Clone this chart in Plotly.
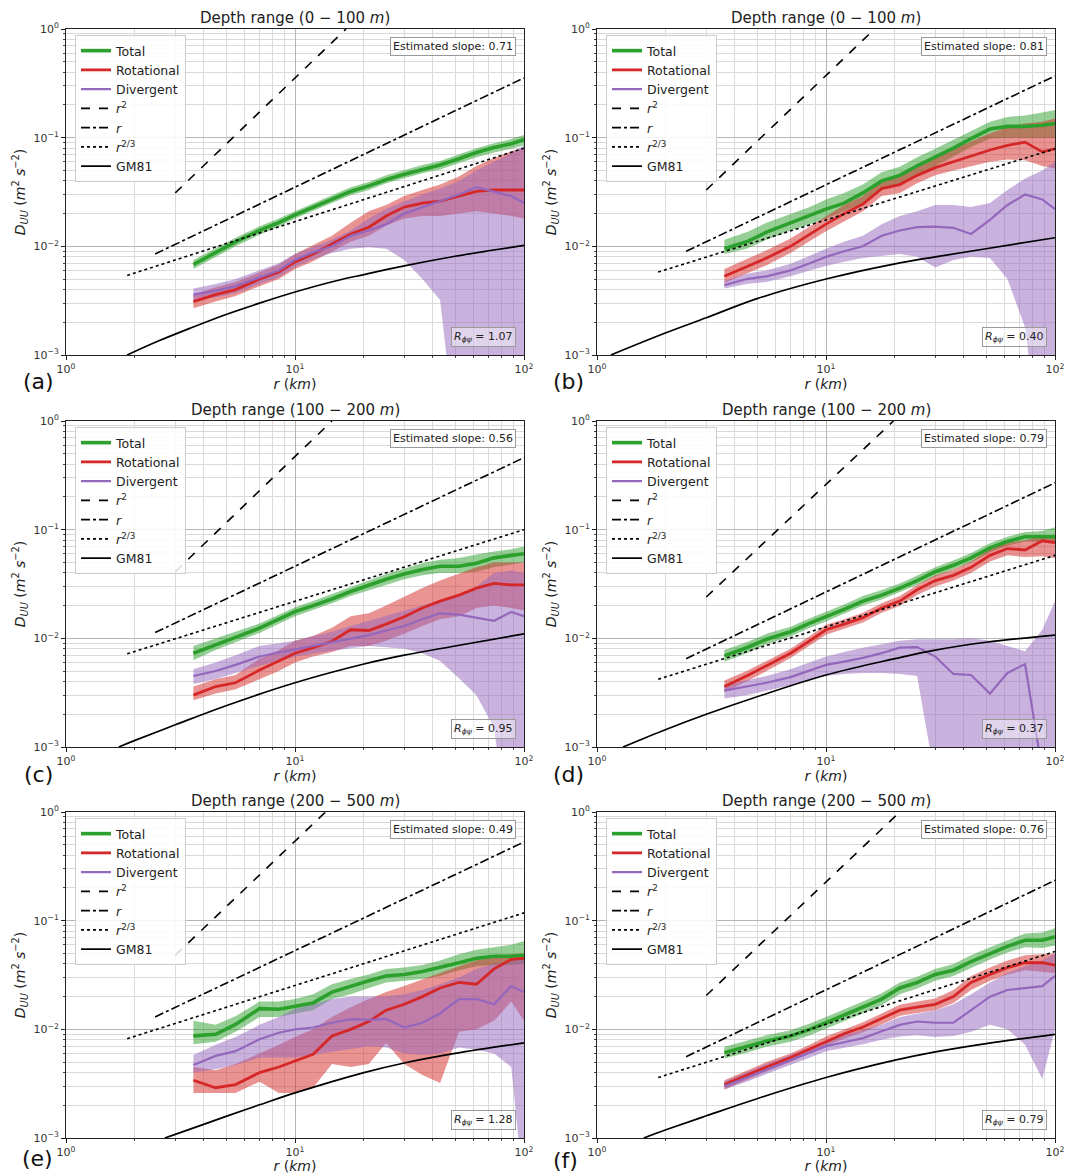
import plotly.graph_objects as go

W, H = 1067, 1174

# ---------------- data ----------------
R = [3.6, 4.5, 5.5, 7, 8.5, 10, 12, 14.5, 17.5, 21, 25, 30, 36, 43, 52, 62, 74, 88, 100]

# (a) 0-100 m, left
A_TOT = [0.0068, 0.0088, 0.0110, 0.0140, 0.0165, 0.0195, 0.023, 0.027, 0.032, 0.036, 0.041, 0.046, 0.051, 0.056, 0.064, 0.073, 0.081, 0.088, 0.096]
A_TOT_LO = [0.0062, 0.008, 0.0100, 0.0128, 0.0152, 0.018, 0.0212, 0.025, 0.0295, 0.033, 0.038, 0.042, 0.047, 0.051, 0.058, 0.066, 0.073, 0.079, 0.085]
A_TOT_HI = [0.0075, 0.0096, 0.012, 0.0153, 0.018, 0.021, 0.025, 0.0295, 0.035, 0.039, 0.045, 0.050, 0.056, 0.061, 0.070, 0.080, 0.089, 0.097, 0.106]
A_ROT = [0.0031, 0.0036, 0.0040, 0.0050, 0.0058, 0.0072, 0.0085, 0.0105, 0.0130, 0.0150, 0.019, 0.023, 0.025, 0.026, 0.029, 0.032, 0.033, 0.033, 0.033]
A_ROT_LO = [0.0027, 0.0031, 0.0035, 0.0043, 0.005, 0.0062, 0.0073, 0.009, 0.011, 0.0125, 0.0155, 0.018, 0.019, 0.019, 0.020, 0.021, 0.020, 0.019, 0.018]
A_ROT_HI = [0.0036, 0.0042, 0.0047, 0.0058, 0.0068, 0.0085, 0.0102, 0.0125, 0.0165, 0.021, 0.024, 0.029, 0.033, 0.037, 0.044, 0.055, 0.065, 0.075, 0.08]
A_DIV = [0.0036, 0.0039, 0.0043, 0.0052, 0.006, 0.0075, 0.0088, 0.010, 0.0125, 0.0140, 0.016, 0.020, 0.023, 0.026, 0.030, 0.035, 0.032, 0.029, 0.025]
A_DIV_LO = [0.0032, 0.0034, 0.0037, 0.0045, 0.0052, 0.0065, 0.0076, 0.0087, 0.0095, 0.0098, 0.0095, 0.0075, 0.005, 0.0032, 0.0001, 0.0001, 0.0001, 0.0001, 0.0001]
A_DIV_HI = [0.0041, 0.0045, 0.005, 0.006, 0.007, 0.0085, 0.0098, 0.0115, 0.014, 0.018, 0.022, 0.026, 0.030, 0.034, 0.040, 0.050, 0.060, 0.072, 0.085]

# (b) 0-100 m, right
B_TOT = [0.0095, 0.011, 0.0135, 0.0165, 0.019, 0.022, 0.025, 0.031, 0.040, 0.045, 0.055, 0.066, 0.080, 0.098, 0.12, 0.127, 0.127, 0.13, 0.135]
B_TOT_LO = [0.0085, 0.0095, 0.0115, 0.014, 0.016, 0.018, 0.021, 0.025, 0.033, 0.037, 0.045, 0.055, 0.067, 0.082, 0.098, 0.10, 0.10, 0.10, 0.10]
B_TOT_HI = [0.0115, 0.0135, 0.0165, 0.02, 0.023, 0.027, 0.031, 0.037, 0.048, 0.054, 0.066, 0.079, 0.096, 0.115, 0.14, 0.155, 0.16, 0.17, 0.18]
B_ROT = [0.0053, 0.0065, 0.0078, 0.0100, 0.0130, 0.0160, 0.020, 0.0245, 0.034, 0.037, 0.045, 0.053, 0.060, 0.068, 0.077, 0.085, 0.091, 0.074, 0.079]
B_ROT_LO = [0.0046, 0.0056, 0.0067, 0.0087, 0.0112, 0.0138, 0.017, 0.021, 0.029, 0.031, 0.038, 0.045, 0.050, 0.055, 0.060, 0.063, 0.062, 0.055, 0.052]
B_ROT_HI = [0.0062, 0.0076, 0.0092, 0.0118, 0.0152, 0.019, 0.024, 0.029, 0.040, 0.045, 0.055, 0.066, 0.078, 0.092, 0.11, 0.125, 0.135, 0.14, 0.15]
B_DIV = [0.0044, 0.0050, 0.0053, 0.0060, 0.0070, 0.0080, 0.0090, 0.0100, 0.0125, 0.0140, 0.0150, 0.0152, 0.0148, 0.0130, 0.0175, 0.024, 0.030, 0.027, 0.022]
B_DIV_LO = [0.0041, 0.0045, 0.0047, 0.0053, 0.006, 0.0066, 0.0072, 0.0078, 0.0082, 0.0085, 0.008, 0.0064, 0.0075, 0.008, 0.0078, 0.005, 0.0018, 0.0001, 0.0001]
B_DIV_HI = [0.0048, 0.0056, 0.006, 0.0069, 0.0082, 0.0095, 0.011, 0.0125, 0.016, 0.019, 0.021, 0.024, 0.024, 0.023, 0.025, 0.033, 0.042, 0.05, 0.06]

# (c) 100-200 m, left
C_TOT = [0.0073, 0.0088, 0.0102, 0.0124, 0.0150, 0.0176, 0.020, 0.023, 0.027, 0.031, 0.035, 0.039, 0.043, 0.046, 0.046, 0.049, 0.055, 0.058, 0.060]
C_TOT_LO = [0.0063, 0.0078, 0.0092, 0.0112, 0.0136, 0.016, 0.0182, 0.021, 0.0245, 0.028, 0.031, 0.035, 0.038, 0.040, 0.040, 0.041, 0.045, 0.048, 0.050]
C_TOT_HI = [0.0085, 0.010, 0.0114, 0.0137, 0.0165, 0.0193, 0.022, 0.0255, 0.030, 0.0345, 0.039, 0.044, 0.049, 0.053, 0.055, 0.059, 0.063, 0.066, 0.070]
C_ROT = [0.0030, 0.0036, 0.0039, 0.0051, 0.0062, 0.0073, 0.0082, 0.0094, 0.0120, 0.0118, 0.0135, 0.0158, 0.019, 0.022, 0.025, 0.029, 0.032, 0.031, 0.031]
C_ROT_LO = [0.0027, 0.0031, 0.0034, 0.0042, 0.005, 0.006, 0.0068, 0.0075, 0.0085, 0.0085, 0.0095, 0.011, 0.013, 0.015, 0.016, 0.019, 0.02, 0.019, 0.018]
C_ROT_HI = [0.0036, 0.0042, 0.0046, 0.0065, 0.0078, 0.0095, 0.0105, 0.0125, 0.016, 0.017, 0.020, 0.024, 0.029, 0.034, 0.039, 0.045, 0.05, 0.05, 0.05]
C_DIV = [0.0045, 0.0050, 0.0057, 0.0068, 0.0074, 0.0079, 0.0085, 0.0092, 0.0100, 0.0107, 0.0118, 0.0130, 0.0150, 0.017, 0.0165, 0.0155, 0.0145, 0.0175, 0.016]
C_DIV_LO = [0.0038, 0.0042, 0.0048, 0.0056, 0.0062, 0.0068, 0.0072, 0.0077, 0.0081, 0.0085, 0.0083, 0.008, 0.0073, 0.0062, 0.0043, 0.003, 0.0015, 0.0001, 0.0001]
C_DIV_HI = [0.0052, 0.0060, 0.0070, 0.0085, 0.009, 0.0095, 0.0105, 0.0115, 0.013, 0.0145, 0.016, 0.018, 0.020, 0.022, 0.025, 0.030, 0.040, 0.042, 0.040]

# (d) 100-200 m, right
D_TOT = [0.0069, 0.0082, 0.0098, 0.0115, 0.0138, 0.0158, 0.0185, 0.022, 0.025, 0.029, 0.034, 0.041, 0.047, 0.055, 0.068, 0.078, 0.086, 0.086, 0.086]
D_TOT_LO = [0.0061, 0.0073, 0.0088, 0.0104, 0.0125, 0.0143, 0.0168, 0.020, 0.0228, 0.0265, 0.031, 0.037, 0.043, 0.050, 0.062, 0.071, 0.078, 0.077, 0.075]
D_TOT_HI = [0.0078, 0.0092, 0.011, 0.0128, 0.0153, 0.0175, 0.0205, 0.0245, 0.0278, 0.032, 0.038, 0.045, 0.052, 0.061, 0.075, 0.086, 0.095, 0.097, 0.105]
D_ROT = [0.0036, 0.0045, 0.0056, 0.0073, 0.0095, 0.012, 0.0135, 0.0155, 0.019, 0.022, 0.028, 0.034, 0.038, 0.045, 0.058, 0.067, 0.065, 0.079, 0.076]
D_ROT_LO = [0.0032, 0.004, 0.005, 0.0066, 0.0086, 0.0108, 0.0122, 0.014, 0.0172, 0.0198, 0.025, 0.030, 0.034, 0.040, 0.051, 0.058, 0.056, 0.057, 0.055]
D_ROT_HI = [0.0041, 0.005, 0.0062, 0.008, 0.0105, 0.0133, 0.015, 0.0172, 0.021, 0.0245, 0.031, 0.038, 0.043, 0.051, 0.066, 0.076, 0.08, 0.088, 0.09]
D_DIV = [0.0033, 0.0036, 0.0039, 0.0044, 0.0051, 0.0057, 0.0061, 0.0066, 0.0073, 0.0082, 0.0083, 0.0068, 0.0047, 0.0046, 0.0031, 0.0048, 0.0058, 0.0006, 0.0009]
D_DIV_LO = [0.0028, 0.003, 0.0033, 0.0037, 0.0042, 0.0045, 0.0047, 0.0048, 0.0048, 0.0047, 0.0045, 0.0005, 0.0001, 0.0001, 0.0001, 0.0001, 0.0001, 0.0001, 0.0001]
D_DIV_HI = [0.0037, 0.0041, 0.0045, 0.0052, 0.006, 0.0068, 0.0075, 0.0082, 0.0088, 0.0095, 0.0098, 0.0098, 0.0098, 0.010, 0.0095, 0.0085, 0.0076, 0.012, 0.022]

# (e) 200-500 m, left
E_TOT = [0.0087, 0.0090, 0.0111, 0.0155, 0.0153, 0.0163, 0.0175, 0.022, 0.025, 0.028, 0.031, 0.032, 0.034, 0.037, 0.041, 0.045, 0.047, 0.047, 0.048]
E_TOT_LO = [0.0073, 0.0077, 0.0095, 0.013, 0.013, 0.014, 0.015, 0.019, 0.021, 0.024, 0.027, 0.028, 0.029, 0.031, 0.035, 0.038, 0.039, 0.039, 0.040]
E_TOT_HI = [0.012, 0.011, 0.0132, 0.018, 0.018, 0.019, 0.021, 0.026, 0.029, 0.032, 0.036, 0.037, 0.039, 0.043, 0.049, 0.054, 0.057, 0.060, 0.065]
E_ROT = [0.0034, 0.0029, 0.0031, 0.0040, 0.0045, 0.0051, 0.0059, 0.0087, 0.0100, 0.0118, 0.0150, 0.0170, 0.0200, 0.024, 0.027, 0.026, 0.036, 0.044, 0.045]
E_ROT_LO = [0.0026, 0.0026, 0.0026, 0.0033, 0.0026, 0.0026, 0.0029, 0.0048, 0.0045, 0.0048, 0.0075, 0.0048, 0.0038, 0.0032, 0.0095, 0.010, 0.012, 0.018, 0.012]
E_ROT_HI = [0.0045, 0.0042, 0.0048, 0.0060, 0.0072, 0.0085, 0.010, 0.013, 0.016, 0.019, 0.022, 0.025, 0.029, 0.033, 0.038, 0.043, 0.046, 0.049, 0.050]
E_DIV = [0.0047, 0.0057, 0.0063, 0.0081, 0.0093, 0.0100, 0.0104, 0.0115, 0.0124, 0.0122, 0.0125, 0.0104, 0.0115, 0.0140, 0.0190, 0.0190, 0.0170, 0.025, 0.022]
E_DIV_LO = [0.0040, 0.0043, 0.0047, 0.0055, 0.0055, 0.0055, 0.0058, 0.0062, 0.0066, 0.0070, 0.0068, 0.0060, 0.0058, 0.0060, 0.0068, 0.0065, 0.0060, 0.0045, 0.0003]
E_DIV_HI = [0.0058, 0.0072, 0.0085, 0.011, 0.013, 0.0155, 0.017, 0.019, 0.020, 0.020, 0.020, 0.021, 0.023, 0.026, 0.030, 0.036, 0.040, 0.043, 0.045]

# (f) 200-500 m, right
F_TOT = [0.0061, 0.0069, 0.0078, 0.0087, 0.0100, 0.0115, 0.0135, 0.016, 0.019, 0.024, 0.027, 0.032, 0.035, 0.042, 0.050, 0.058, 0.066, 0.066, 0.071]
F_TOT_LO = [0.0054, 0.0061, 0.0069, 0.0077, 0.0088, 0.0101, 0.0119, 0.014, 0.0167, 0.021, 0.0238, 0.028, 0.031, 0.037, 0.044, 0.051, 0.057, 0.056, 0.059]
F_TOT_HI = [0.0069, 0.0078, 0.0088, 0.0098, 0.0113, 0.013, 0.0152, 0.018, 0.0215, 0.027, 0.0305, 0.036, 0.04, 0.048, 0.057, 0.066, 0.076, 0.078, 0.085]
F_ROT = [0.0031, 0.0038, 0.0045, 0.0055, 0.0066, 0.0078, 0.0091, 0.0105, 0.0125, 0.0150, 0.016, 0.017, 0.020, 0.027, 0.032, 0.037, 0.041, 0.041, 0.039]
F_ROT_LO = [0.0028, 0.0034, 0.0041, 0.005, 0.006, 0.0071, 0.0082, 0.0094, 0.0111, 0.0133, 0.0142, 0.015, 0.0175, 0.023, 0.028, 0.032, 0.035, 0.034, 0.033]
F_ROT_HI = [0.0034, 0.0042, 0.005, 0.006, 0.0072, 0.0086, 0.010, 0.0116, 0.014, 0.0168, 0.018, 0.0192, 0.023, 0.031, 0.037, 0.043, 0.048, 0.049, 0.050]
F_DIV = [0.0030, 0.0036, 0.0043, 0.0052, 0.0061, 0.0070, 0.0076, 0.0083, 0.0096, 0.0110, 0.0118, 0.0115, 0.0115, 0.0150, 0.020, 0.023, 0.024, 0.025, 0.031]
F_DIV_LO = [0.0028, 0.0033, 0.0039, 0.0047, 0.0055, 0.0063, 0.0068, 0.0073, 0.0080, 0.0086, 0.0088, 0.0085, 0.0087, 0.0095, 0.011, 0.010, 0.0072, 0.0035, 0.010]
F_DIV_HI = [0.0033, 0.004, 0.0048, 0.0058, 0.0068, 0.0078, 0.0088, 0.0098, 0.011, 0.013, 0.014, 0.015, 0.017, 0.021, 0.027, 0.033, 0.038, 0.043, 0.050]

# reference power-law lines (end points) and GM81 curves
A_R2 = ([3, 16.7], [0.031, 1.0]); A_R1 = ([2.45, 100], [0.0085, 0.355]); A_R23 = ([1.85, 100], [0.0054, 0.08])
B_R2 = ([3, 16.3], [0.033, 1.0]); B_R1 = ([2.45, 100], [0.009, 0.37]); B_R23 = ([1.85, 100], [0.0058, 0.079])
C_R2 = ([3, 14.5], [0.041, 1.0]); C_R1 = ([2.45, 100], [0.0113, 0.46]); C_R23 = ([1.85, 100], [0.0072, 0.1])
D_R2 = ([3, 19.7], [0.024, 1.0]); D_R1 = ([2.45, 100], [0.0065, 0.27]); D_R23 = ([1.85, 100], [0.0042, 0.058])
E_R2 = ([3, 13.6], [0.048, 1.0]); E_R1 = ([2.45, 100], [0.013, 0.53]); E_R23 = ([1.85, 100], [0.0082, 0.118])
F_R2 = ([3, 21], [0.0205, 1.0]); F_R1 = ([2.45, 100], [0.0056, 0.235]); F_R23 = ([1.85, 100], [0.0036, 0.052])

A_GM_X = [1.85, 2.5, 3.5, 5, 7, 10, 15, 20, 30, 50, 70, 100]
A_GM_Y = [0.001, 0.00133, 0.00177, 0.00236, 0.0030, 0.0038, 0.0048, 0.0055, 0.0066, 0.0081, 0.0091, 0.0102]
B_GM_X = [1.15, 2, 3, 5, 10, 20, 30, 50, 100]
B_GM_Y = [0.001, 0.0016, 0.0022, 0.0033, 0.005, 0.0069, 0.008, 0.0095, 0.012]
C_GM_X = [1.7, 2, 3, 5, 10, 20, 30, 50, 100]
C_GM_Y = [0.001, 0.00115, 0.0016, 0.0024, 0.0039, 0.0058, 0.007, 0.0085, 0.011]
D_GM_X = [1.3, 2, 3, 5, 10, 20, 30, 50, 100]
D_GM_Y = [0.001, 0.00145, 0.002, 0.0029, 0.0046, 0.0065, 0.0078, 0.0092, 0.0107]
E_GM_X = [2.7, 3, 5, 7, 10, 20, 30, 50, 100]
E_GM_Y = [0.001, 0.00108, 0.00158, 0.00202, 0.0026, 0.0040, 0.0049, 0.0060, 0.0075]
F_GM_X = [1.6, 2, 3, 5, 10, 20, 30, 50, 100]
F_GM_Y = [0.001, 0.00119, 0.0016, 0.0023, 0.0036, 0.0052, 0.0062, 0.0074, 0.009]

TITLES = ["Depth range (0 − 100 <i>m</i>)", "Depth range (0 − 100 <i>m</i>)",
          "Depth range (100 − 200 <i>m</i>)", "Depth range (100 − 200 <i>m</i>)",
          "Depth range (200 − 500 <i>m</i>)", "Depth range (200 − 500 <i>m</i>)"]
LABELS = ["(a)", "(b)", "(c)", "(d)", "(e)", "(f)"]
SLOPES = ["0.71", "0.81", "0.56", "0.79", "0.49", "0.76"]
RATIOS = ["1.07", "0.40", "0.95", "0.37", "1.28", "0.79"]

X_TICKS = [1, 10, 100]
X_TICKTEXT = ["10<sup>0</sup>", "10<sup>1</sup>", "10<sup>2</sup>"]
Y_TICKS = [0.001, 0.01, 0.1, 1]
Y_TICKTEXT = ["10<sup>−3</sup>", "10<sup>−2</sup>", "10<sup>−1</sup>", "10<sup>0</sup>"]

PANELS = [
    dict(tot=(A_TOT, A_TOT_LO, A_TOT_HI), rot=(A_ROT, A_ROT_LO, A_ROT_HI), div=(A_DIV, A_DIV_LO, A_DIV_HI), r2=A_R2, r1=A_R1, r23=A_R23, gm=(A_GM_X, A_GM_Y)),
    dict(tot=(B_TOT, B_TOT_LO, B_TOT_HI), rot=(B_ROT, B_ROT_LO, B_ROT_HI), div=(B_DIV, B_DIV_LO, B_DIV_HI), r2=B_R2, r1=B_R1, r23=B_R23, gm=(B_GM_X, B_GM_Y)),
    dict(tot=(C_TOT, C_TOT_LO, C_TOT_HI), rot=(C_ROT, C_ROT_LO, C_ROT_HI), div=(C_DIV, C_DIV_LO, C_DIV_HI), r2=C_R2, r1=C_R1, r23=C_R23, gm=(C_GM_X, C_GM_Y)),
    dict(tot=(D_TOT, D_TOT_LO, D_TOT_HI), rot=(D_ROT, D_ROT_LO, D_ROT_HI), div=(D_DIV, D_DIV_LO, D_DIV_HI), r2=D_R2, r1=D_R1, r23=D_R23, gm=(D_GM_X, D_GM_Y)),
    dict(tot=(E_TOT, E_TOT_LO, E_TOT_HI), rot=(E_ROT, E_ROT_LO, E_ROT_HI), div=(E_DIV, E_DIV_LO, E_DIV_HI), r2=E_R2, r1=E_R1, r23=E_R23, gm=(E_GM_X, E_GM_Y)),
    dict(tot=(F_TOT, F_TOT_LO, F_TOT_HI), rot=(F_ROT, F_ROT_LO, F_ROT_HI), div=(F_DIV, F_DIV_LO, F_DIV_HI), r2=F_R2, r1=F_R1, r23=F_R23, gm=(F_GM_X, F_GM_Y)),
]

# ---------------- layout geometry (window pixels) ----------------
COL_X = [(66, 524), (597, 1055)]
ROW_Y = [(29, 355), (421, 747), (812, 1138)]
LABEL_POS = [(38, 382), (568, 382), (38, 774), (568, 774), (37, 1158), (565, 1160)]


def px(xp):
    return xp / W


def py(yp):
    return 1 - yp / H


GREEN, RED, PURPLE = "#2ca02c", "#d62728", "#9467bd"
FILLS = {"tot": "rgba(44,160,44,0.5)", "rot": "rgba(214,39,40,0.5)", "div": "rgba(148,103,189,0.5)"}
FONT = "DejaVu Sans"

fig = go.Figure()
layout = dict(width=W, height=H, margin=dict(l=0, r=0, t=0, b=0, autoexpand=False),
              paper_bgcolor="white", plot_bgcolor="white",
              font=dict(family=FONT, color="#222"), showlegend=True)
annotations = []

x_minor = [m * d for d in (1, 10) for m in range(2, 10)]
y_minor = [m * d for d in (0.001, 0.01, 0.1) for m in range(2, 10)]

for i, p in enumerate(PANELS):
    k = i + 1
    xs = "" if k == 1 else str(k)
    col, row = i % 2, i // 2
    x0, x1 = COL_X[col]
    y0, y1 = ROW_Y[row]
    leg = "legend" if k == 1 else f"legend{k}"
    xa, ya = f"x{xs}", f"y{xs}"

    # bands
    for key in ("tot", "rot", "div"):
        mid, lo, hi = p[key]
        fig.add_trace(go.Scatter(x=R + R[::-1], y=hi + lo[::-1], fill="toself",
                                 fillcolor=FILLS[key], line=dict(width=0), mode="lines",
                                 hoverinfo="skip", showlegend=False, xaxis=xa, yaxis=ya))
    # main lines
    for key, name, color, wdt in (("tot", "Total", GREEN, 3.6), ("rot", "Rotational", RED, 2.8), ("div", "Divergent", PURPLE, 2.2)):
        fig.add_trace(go.Scatter(x=R, y=p[key][0], mode="lines", name=name,
                                 line=dict(color=color, width=wdt), legend=leg,
                                 xaxis=xa, yaxis=ya))
    # reference lines
    for key, name, dash in (("r2", "<i>r</i><sup>2</sup>", "dash"), ("r1", "<i>r</i>", "dashdot"), ("r23", "<i>r</i><sup>2/3</sup>", "dot")):
        fig.add_trace(go.Scatter(x=p[key][0], y=p[key][1], mode="lines", name=name,
                                 line=dict(color="black", width=1.6, dash=dash), legend=leg,
                                 xaxis=xa, yaxis=ya))
    fig.add_trace(go.Scatter(x=p["gm"][0], y=p["gm"][1], mode="lines", name="GM81",
                             line=dict(color="black", width=1.7, shape="spline"), legend=leg,
                             xaxis=xa, yaxis=ya))

    axis_common = dict(type="log", showline=True, linecolor="#222", linewidth=1, mirror=True,
                       ticks="outside", ticklen=4, tickcolor="#222", showgrid=True,
                       gridcolor="#b5b5b5", gridwidth=1, zeroline=False, automargin=False,
                       tickfont=dict(size=11, color="#333"))
    layout[f"xaxis{k}"] = dict(axis_common, domain=[px(x0), px(x1)], anchor=ya, range=[0, 2],
                               tickmode="array", tickvals=X_TICKS, ticktext=X_TICKTEXT,
                               minor=dict(tickmode="array", tickvals=x_minor, showgrid=True, gridcolor="#dadada",
                                          ticks="outside", ticklen=2, tickcolor="#444"),
                               title=dict(text="<i>r</i> (<i>km</i>)", font=dict(size=14), standoff=2))
    layout[f"yaxis{k}"] = dict(axis_common, domain=[py(y1), py(y0)], anchor=xa, range=[-3, 0],
                               tickmode="array", tickvals=Y_TICKS, ticktext=Y_TICKTEXT,
                               minor=dict(tickmode="array", tickvals=y_minor, showgrid=True, gridcolor="#dadada",
                                          ticks="outside", ticklen=2, tickcolor="#444"),
                               title=dict(text="<i>D</i><sub><i>UU</i></sub> (<i>m</i><sup>2</sup> <i>s</i><sup>−2</sup>)",
                                          font=dict(size=14), standoff=4))
    layout[leg] = dict(x=px(x0 + 9), y=py(y0 + 6), xanchor="left", yanchor="top",
                       bgcolor="rgba(255,255,255,0.85)", bordercolor="#cccccc", borderwidth=1,
                       font=dict(size=12.5, family=FONT), tracegroupgap=0)

    annotations.append(dict(text=TITLES[i], xref="paper", yref="paper", x=px((x0 + x1) / 2),
                            y=py(y0), xanchor="center", yanchor="bottom", yshift=0,
                            showarrow=False, font=dict(size=15, family=FONT, color="#222")))
    annotations.append(dict(text=f"Estimated slope: {SLOPES[i]}", xref=f"{xa} domain", yref=f"{ya} domain",
                            x=0.983, y=0.975, xanchor="right", yanchor="top", showarrow=False,
                            bordercolor="#999", borderwidth=1, borderpad=2, bgcolor="white",
                            font=dict(size=11, family=FONT, color="#222")))
    annotations.append(dict(text=f"<i>R<sub>ϕψ</sub></i> = {RATIOS[i]}", xref=f"{xa} domain", yref=f"{ya} domain",
                            x=0.983, y=0.025, xanchor="right", yanchor="bottom", showarrow=False,
                            bordercolor="#999", borderwidth=1, borderpad=2, bgcolor="rgba(255,255,255,0.45)",
                            font=dict(size=11, family=FONT, color="#222")))
    lx, ly = LABEL_POS[i]
    annotations.append(dict(text=LABELS[i], xref="paper", yref="paper", x=px(lx), y=py(ly),
                            xanchor="center", yanchor="middle", showarrow=False,
                            font=dict(size=22, family=FONT, color="#111")))

layout["annotations"] = annotations
fig.update_layout(**layout)
fig.write_html("out.html", config={"displayModeBar": False},
               post_script="document.body.style.margin='0';document.body.style.overflow='hidden';")
